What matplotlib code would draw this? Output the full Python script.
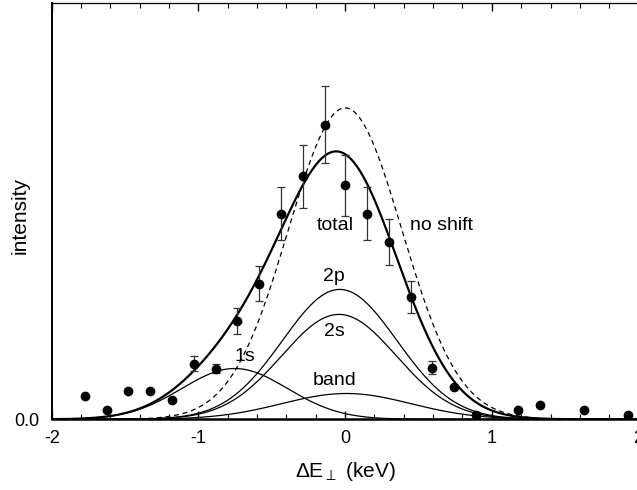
import numpy as np
import matplotlib
matplotlib.use("Agg")
import matplotlib.pyplot as plt
from matplotlib.ticker import MultipleLocator, NullLocator

plt.rcParams["font.family"] = ["Liberation Sans", "DejaVu Sans"]
plt.rcParams["mathtext.fontset"] = "dejavusans"
plt.rcParams["axes.unicode_minus"] = False

# measured points (energy shift in keV, intensity in arb. units)
x_data = [-1.77, -1.62, -1.48, -1.33, -1.18, -1.03, -0.88, -0.74, -0.59, -0.44,
          -0.29, -0.14, 0.00, 0.15, 0.30, 0.45, 0.59, 0.74, 0.89, 1.18,
          1.33, 1.63, 1.93]
y_data = [0.055, 0.022, 0.067, 0.067, 0.046, 0.134, 0.122, 0.236, 0.326, 0.494,
          0.584, 0.708, 0.562, 0.494, 0.426, 0.293, 0.124, 0.078, 0.011, 0.022,
          0.034, 0.022, 0.011]
y_err = [0, 0, 0, 0, 0, 0.018, 0.012, 0.031, 0.043, 0.064,
         0.076, 0.092, 0.073, 0.064, 0.055, 0.038, 0.016, 0, 0, 0,
         0, 0, 0]

# gaussian fit components
comp_names = ["1s", "2s", "2p", "band"]
comp_amp = [0.122, 0.252, 0.312, 0.062]
comp_center = [-0.753, -0.042, -0.037, 0.008]
comp_width = [0.36, 0.39, 0.39, 0.44]

# label positions (data coords)
label_pos = {
    "1s": (-0.68, 0.150),
    "2s": (-0.07, 0.210),
    "2p": (-0.08, 0.343),
    "band": (-0.07, 0.094),
    "total": (-0.07, 0.465),
    "no shift": (0.66, 0.465),
}


def gauss(x, a, c, w):
    return a * np.exp(-0.5 * ((x - c) / w) ** 2)


fig = plt.figure(figsize=(6.37, 4.9), dpi=100)
ax = fig.add_axes([0.0812, 0.1443, 0.9212, 0.8496])

xx = np.linspace(-2, 2, 800)
total = np.zeros_like(xx)
noshift = np.zeros_like(xx)
for a, c, w in zip(comp_amp, comp_center, comp_width):
    yy = gauss(xx, a, c, w)
    total += yy
    noshift += gauss(xx, a, 0.0, w)
    ax.plot(xx, yy, color="black", lw=0.9)

ax.plot(xx, noshift, color="black", lw=0.9, ls=(0, (4, 3)))
ax.plot(xx, total, color="black", lw=1.6)

xd = np.array(x_data)
yd = np.array(y_data)
ye = np.array(y_err)
has_err = ye > 0
ax.errorbar(xd[has_err], yd[has_err], yerr=ye[has_err], fmt="none",
            ecolor="#333333", elinewidth=0.9, capsize=2.8, capthick=0.9)
ax.plot(xd, yd, "o", color="black", markersize=6, zorder=5)

for name, (lx, ly) in label_pos.items():
    ax.text(lx, ly, name, fontsize=14, ha="center", va="center")

ax.set_xlim(-2, 2)
ax.set_ylim(0, 1.0)
ax.xaxis.set_major_locator(MultipleLocator(1))
ax.xaxis.set_minor_locator(MultipleLocator(0.2))
ax.set_yticks([0.0])
ax.set_yticklabels(["0.0"])
ax.yaxis.set_minor_locator(NullLocator())
ax.tick_params(axis="x", which="both", direction="in", top=True, bottom=True,
               labelsize=13, pad=8)
ax.tick_params(axis="x", which="major", length=6, width=1.0)
ax.tick_params(axis="x", which="minor", length=3.5, width=0.8)
ax.tick_params(axis="y", which="both", length=0, labelsize=13, pad=9)

ax.spines["bottom"].set_linewidth(1.8)
ax.spines["left"].set_linewidth(1.4)
ax.spines["top"].set_linewidth(0.9)
ax.spines["right"].set_linewidth(0.9)

ax.set_xlabel(r"ΔE$_{\perp}$ (keV)", fontsize=15, labelpad=9)
ax.set_ylabel("intensity", fontsize=15)
ax.yaxis.set_label_coords(-0.037, 0.49)

fig.savefig("out.png", dpi=100)
